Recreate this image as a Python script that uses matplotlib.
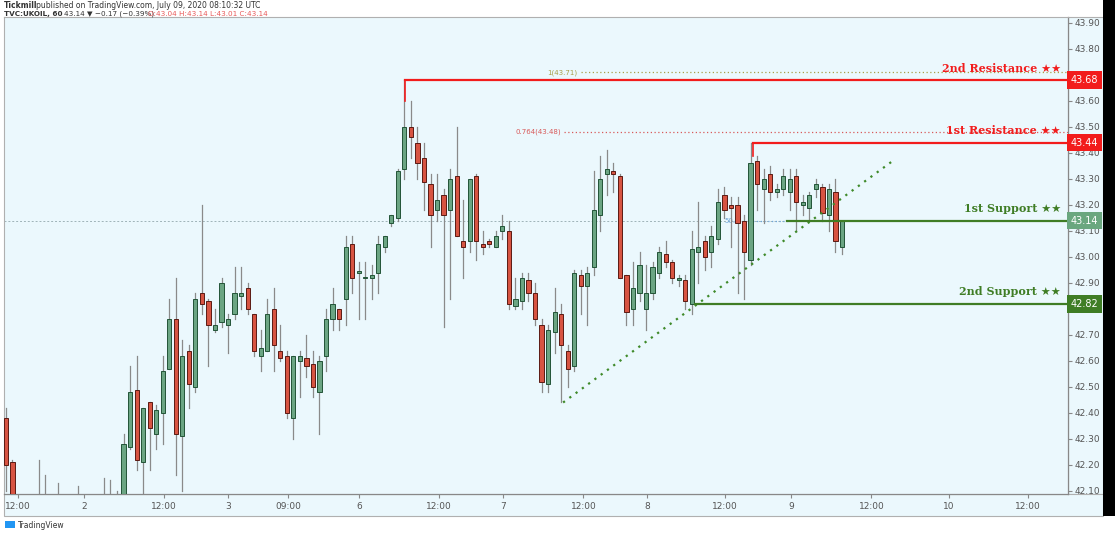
import matplotlib
matplotlib.use("Agg")
import matplotlib.pyplot as plt
from matplotlib.patches import Rectangle

opens = [42.38,42.21,42.05,42.00,42.03,41.98,42.04,42.00,41.97,42.02,41.99,42.01,41.98,42.00,41.99,42.02,42.00,42.03,
 42.05,42.27,42.49,42.21,42.44,42.32,42.40,42.57,42.76,42.31,42.64,42.50,42.86,42.83,42.72,42.75,42.74,42.78,42.85,42.88,
 42.78,42.62,42.64,42.80,42.64,42.62,42.38,42.60,42.61,42.59,42.48,42.62,42.76,42.80,42.84,43.05,42.94,42.92,42.92,42.94,
 43.04,43.13,43.15,43.34,43.50,43.44,43.38,43.28,43.18,43.24,43.18,43.31,43.06,43.06,43.31,43.05,43.06,43.04,43.10,43.10,
 42.81,42.83,42.91,42.86,42.74,42.51,42.71,42.78,42.64,42.58,42.93,42.89,42.96,43.16,43.32,43.33,43.31,42.93,42.80,42.86,
 42.80,42.86,42.94,43.01,42.98,42.91,42.91,42.82,43.02,43.06,43.02,43.07,43.24,43.20,43.20,43.14,42.99,43.37,43.26,43.32,
 43.25,43.26,43.25,43.31,43.20,43.19,43.26,43.27,43.16,43.25,43.04]
closes = [42.20,42.05,42.00,42.03,41.98,42.04,42.00,41.97,42.02,41.99,42.01,41.98,42.00,41.99,42.02,42.00,42.03,42.05,
 42.28,42.48,42.22,42.42,42.34,42.41,42.56,42.76,42.32,42.62,42.51,42.84,42.82,42.74,42.74,42.90,42.76,42.86,42.86,42.80,
 42.64,42.65,42.78,42.66,42.61,42.40,42.62,42.62,42.58,42.50,42.60,42.76,42.82,42.76,43.04,42.92,42.94,42.92,42.93,43.05,
 43.08,43.16,43.33,43.50,43.46,43.36,43.29,43.16,43.22,43.16,43.30,43.08,43.04,43.30,43.06,43.04,43.05,43.08,43.12,42.82,
 42.84,42.92,42.86,42.76,42.52,42.72,42.79,42.66,42.57,42.94,42.89,42.94,43.18,43.30,43.34,43.32,42.92,42.79,42.88,42.97,
 42.86,42.96,43.02,42.98,42.92,42.92,42.83,43.03,43.04,43.00,43.08,43.21,43.18,43.19,43.13,43.02,43.36,43.28,43.30,43.25,
 43.26,43.31,43.30,43.21,43.21,43.24,43.28,43.17,43.26,43.06,43.14]
highs = [42.42,42.22,42.08,42.06,42.05,42.22,42.16,42.05,42.13,42.06,42.05,42.12,42.04,42.05,42.06,42.15,42.14,42.10,
 42.32,42.58,42.62,42.42,42.44,42.43,42.62,42.84,42.92,42.68,42.66,42.86,43.20,42.84,42.80,42.92,42.78,42.96,42.96,42.90,
 42.78,42.72,42.84,42.88,42.74,42.64,42.62,42.64,42.70,42.64,42.62,42.80,42.88,42.80,43.08,43.08,42.98,42.98,42.97,43.08,
 43.08,43.16,43.34,43.68,43.60,43.50,43.44,43.32,43.32,43.26,43.34,43.50,43.22,43.30,43.32,43.10,43.07,43.10,43.16,43.14,
 42.92,42.94,42.94,42.90,42.76,42.74,42.88,42.82,42.66,42.95,42.95,42.96,43.33,43.39,43.41,43.36,43.32,42.93,42.98,43.02,
 42.97,42.98,43.04,43.06,42.99,42.93,42.93,43.10,43.21,43.08,43.12,43.26,43.27,43.23,43.23,43.16,43.44,43.39,43.34,43.35,
 43.28,43.34,43.34,43.34,43.24,43.25,43.30,43.28,43.28,43.30,43.14]
lows = [42.10,41.98,41.95,41.96,41.94,41.95,41.96,41.94,41.95,41.96,41.96,41.95,41.95,41.96,41.97,41.97,41.98,42.00,
 42.02,42.26,42.18,42.08,42.18,42.26,42.28,42.57,42.16,42.10,42.42,42.48,42.78,42.58,42.71,42.73,42.63,42.76,42.80,42.78,
 42.62,42.56,42.64,42.56,42.60,42.38,42.30,42.46,42.54,42.46,42.32,42.56,42.72,42.72,42.74,42.86,42.76,42.76,42.84,42.86,
 43.02,43.12,43.14,43.30,43.38,43.30,43.18,43.04,43.14,42.73,42.84,43.08,42.92,43.02,42.99,43.01,43.04,43.04,43.07,42.80,
 42.80,42.80,42.83,42.74,42.48,42.48,42.63,42.44,42.50,42.56,42.78,42.74,42.93,43.10,43.24,43.25,42.92,42.74,42.74,42.83,
 42.72,42.84,42.92,42.96,42.90,42.89,42.80,42.78,42.90,42.95,42.96,43.05,43.15,43.04,42.86,42.84,42.97,43.18,43.13,43.22,
 43.23,43.24,43.18,43.10,43.16,43.14,43.23,43.14,43.10,43.02,43.01]

tick_labels = ["12:00","2","12:00","3","09:00","6","12:00","7","12:00","8","12:00","9","12:00","10","12:00"]
tick_pos = [1.84,11.9,24.2,34.0,43.2,54.1,66.3,76.1,88.4,98.2,110.1,120.2,132.5,144.4,156.5]
price_ticks = [42.10 + 0.1*k for k in range(19)]

levels = [("2nd Resistance ★★", 43.68, 61.1, "#f21c1c", "#f21c1c"),
          ("1st Resistance ★★", 43.44, 114.4, "#f21c1c", "#f21c1c"),
          ("1st Support ★★", 43.14, 119.6, "#3f7d25", "#6aa77f"),
          ("2nd Support ★★", 42.82, 105.5, "#3f7d25", "#3f7d25")]

W, H = 1115, 533
fig = plt.figure(figsize=(W/100, H/100), dpi=100)
fig.patch.set_facecolor("white")
L, R, T, B = 4, 1068, 17, 494
bg = "#ebf8fd"
fig.patches.append(Rectangle((R/W, 1-B/H), 35/W, (B-T)/H, transform=fig.transFigure, facecolor=bg, edgecolor="#b0b0b0", lw=0.8, zorder=-5))
fig.patches.append(Rectangle((4/W, 1-516/H), 1099/W, 22/H, transform=fig.transFigure, facecolor=bg, edgecolor="#b0b0b0", lw=0.8, zorder=-5))
fig.patches.append(Rectangle((1103/W, 1-516/H), 12/W, 516/H, transform=fig.transFigure, facecolor="black", edgecolor="none", zorder=-5))
ax = fig.add_axes([L/W, 1-B/H, (R-L)/W, (B-T)/H])
ax.set_zorder(1)
ax.set_facecolor(bg)

ax.set_xlim(-0.3, 162.6)
ax.set_ylim(42.088, 43.923)

up_f, up_e = "#6ba583", "#225437"
dn_f, dn_e = "#d75442", "#5b1a13"
for i, (o, h, l, c) in enumerate(zip(opens, highs, lows, closes)):
    up = c >= o
    ax.plot([i, i], [l, h], color="#8a8a8a", lw=0.9, zorder=2)
    bot, top = min(o, c), max(o, c)
    ax.add_patch(Rectangle((i-0.32, bot), 0.64, max(top-bot, 0.004),
                           facecolor=up_f if up else dn_f, edgecolor=up_e if up else dn_e, lw=0.7, zorder=3))

ax.axhline(43.14, color="#9fb3b8", lw=0.7, ls=(0, (2, 2)), zorder=1)
ax.plot([88.0, 162.6], [43.71, 43.71], color="#a8a04a", lw=0.9, ls=(0, (1, 2)), zorder=1)
ax.text(87.5, 43.71, "1(43.71)", color="#a8a04a", fontsize=5, ha="right", va="center")
ax.plot([85.5, 162.6], [43.48, 43.48], color="#d85a5a", lw=0.9, ls=(0, (1, 2)), zorder=1)
ax.text(85.0, 43.48, "0.764(43.48)", color="#d85a5a", fontsize=5, ha="right", va="center")
ax.plot([111.5, 119.6], [43.14, 43.14], color="#6fa8dc", lw=0.9, ls=(0, (1, 2)), zorder=1)
ax.text(110.0, 43.14, "50.0", color="#6fa8dc", fontsize=5, ha="left", va="center", zorder=1)
ax.plot([85.3, 135.8], [42.44, 43.37], color="#3f8a2a", lw=1.6, ls=(0, (1, 2.5)), zorder=4)

for name, p, x0, lc, boxc in levels:
    ax.plot([x0, 162.6], [p, p], color=lc, lw=1.6, zorder=5)
    ax.text(161.5, p+0.025, name, color=lc, fontsize=8, fontweight="bold",
            family=["DejaVu Serif", "DejaVu Sans"], ha="right", va="bottom", zorder=6)
    ax.annotate(f"{p:.2f}", xy=(1.0, p), xycoords=("axes fraction", "data"), xytext=(2, 0),
                textcoords="offset points", ha="left", va="center", fontsize=7, color="white",
                bbox=dict(boxstyle="square,pad=0.4", fc=boxc, ec="none"), zorder=10, annotation_clip=False)
ax.plot([61.1, 61.1], [43.68, 43.60], color=levels[0][3], lw=1.2, zorder=5)
ax.plot([114.4, 114.4], [43.44, 43.39], color=levels[1][3], lw=1.2, zorder=5)

ax.yaxis.tick_right()
ax.set_yticks(price_ticks)
ax.set_yticklabels([f"{v:.2f}" for v in price_ticks], fontsize=6.5, color="#555555")
ax.tick_params(axis="y", length=3, color="#888888", pad=2)
ax.set_xticks(tick_pos)
ax.set_xticklabels(tick_labels, fontsize=6.5, color="#555555")
ax.tick_params(axis="x", length=3, color="#888888", pad=3)
for s in ["top", "left"]:
    ax.spines[s].set_color("#b0b0b0"); ax.spines[s].set_linewidth(0.8)
for s in ["bottom", "right"]:
    ax.spines[s].set_color("#888888"); ax.spines[s].set_linewidth(0.9)

fig.text(4/W, 1-6/H, "Tickmill", fontsize=5.5, fontweight="bold", va="center", color="#333333")
fig.text(36/W, 1-6/H, "published on TradingView.com, July 09, 2020 08:10:32 UTC", fontsize=5.5, va="center", color="#333333")
fig.text(4/W, 1-14/H, "TVC:UKOIL, 60", fontsize=5.2, fontweight="bold", va="center", color="#333333")
fig.text(64/W, 1-14/H, "43.14 ▼ −0.17 (−0.39%)", fontsize=5.2, va="center", color="#333333")
fig.text(148/W, 1-14/H, "O:43.04 H:43.14 L:43.01 C:43.14", fontsize=5.2, va="center", color="#e85a5a")
fig.text(18/W, 1-525/H, "TradingView", fontsize=5.5, va="center", color="#333333")
fig.patches.append(Rectangle((5/W, 1-528/H), 10/W, 7/H, transform=fig.transFigure, facecolor="#2196f3", edgecolor="none"))

fig.savefig("out.png", dpi=100)
